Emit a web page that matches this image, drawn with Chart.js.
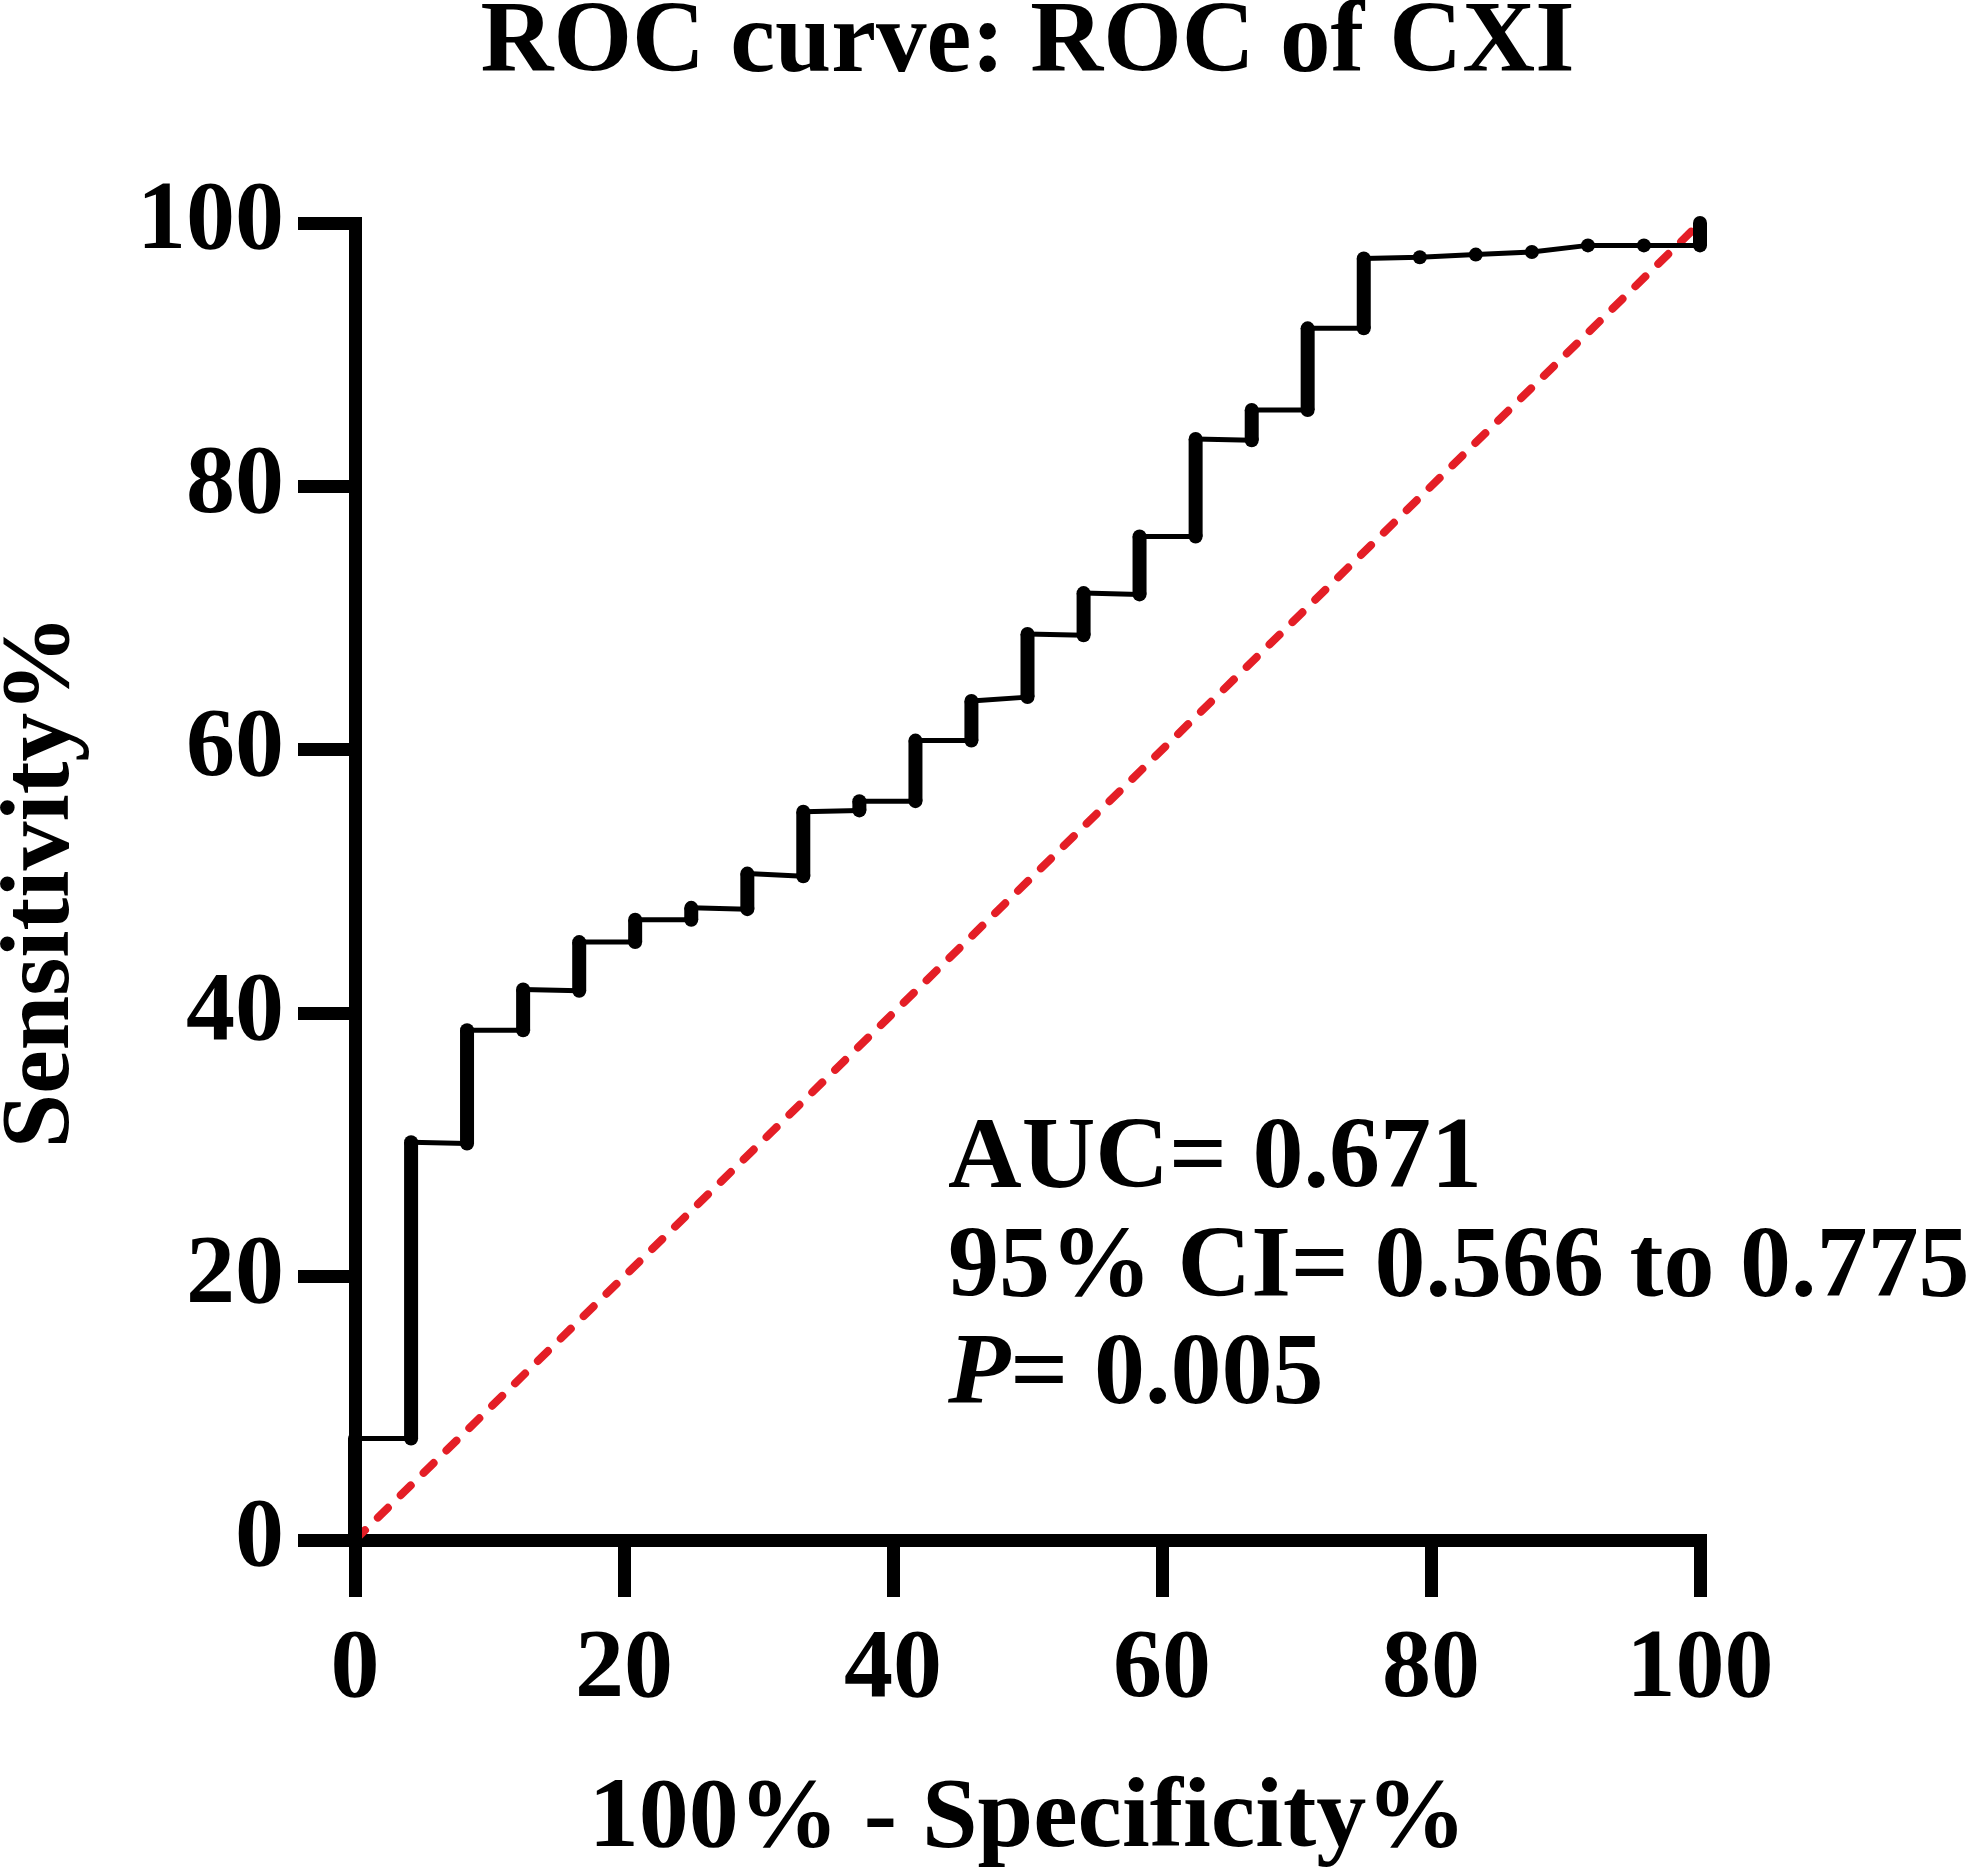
<!DOCTYPE html>
<html>
<head>
<meta charset="utf-8">
<script src="https://cdn.jsdelivr.net/npm/chart.js@4.4.0/dist/chart.umd.min.js"></script>
<style>
  html, body { margin: 0; padding: 0; background: #fff; }
  #roc-canvas { display: block; }
</style>
</head>
<body>
<canvas id="roc-canvas" width="1969" height="1873"></canvas>
<script>
// ROC points: 100% - specificity% and sensitivity%
var specPct = [0, 0, 4.17, 4.17, 8.33, 8.33, 12.5, 12.5, 16.67, 16.67, 20.83, 20.83, 25, 25,
  29.17, 29.17, 33.33, 33.33, 37.5, 37.5, 41.67, 41.67, 45.83, 45.83, 50, 50, 54.17, 54.17,
  58.33, 58.33, 62.5, 62.5, 66.67, 66.67, 70.83, 70.83, 75, 75, 79.17, 83.33, 87.5, 91.67, 95.83, 100, 100]
var sensPct = [0, 7.7, 7.7, 30.2, 30.1, 38.7, 38.7, 41.8, 41.7, 45.4, 45.4, 47.1, 47.1, 48.0,
  47.9, 50.6, 50.4, 55.3, 55.4, 56.1, 56.1, 60.7, 60.7, 63.7, 64.0, 68.8, 68.7, 71.9,
  71.8, 76.2, 76.2, 83.6, 83.5, 85.8, 85.8, 92.0, 92.0, 97.3, 97.4, 97.6, 97.8, 98.3, 98.3, 98.3, 100]
// line of no discrimination
var chanceX = [0, 100]
var chanceY = [0, 100]

var titleText = 'ROC curve: ROC of CXI'
var xTitle = '100% - Specificity%'
var yTitle = 'Sensitivity%'
var aucText = 'AUC= 0.671'
var ciText = '95% CI= 0.566 to 0.775'
var pLabel = 'P'
var pText = '= 0.005'

var FONT = '"Liberation Serif", "Times New Roman", serif'

var rocPoints = []
for (var i = 0; i < specPct.length; i++) {
  rocPoints.push({ x: specPct[i], y: sensPct[i] })
}
var chancePoints = []
for (var j = 0; j < chanceX.length; j++) {
  chancePoints.push({ x: chanceX[j], y: chanceY[j] })
}

// AUC / CI / P text block
var statsText = {
  id: 'statsText',
  afterDraw: function (chart) {
    var ctx = chart.ctx
    var left = 948
    ctx.save()
    ctx.fillStyle = '#000'
    ctx.textAlign = 'left'
    ctx.textBaseline = 'alphabetic'
    ctx.font = 'bold 102px ' + FONT
    ctx.fillText(aucText, left, 1187)
    ctx.fillText(ciText, left, 1296)
    ctx.font = 'italic bold 102px ' + FONT
    ctx.fillText(pLabel, left, 1403)
    var pw = ctx.measureText(pLabel).width
    ctx.font = 'bold 102px ' + FONT
    ctx.fillText(pText, left + pw, 1403)
    ctx.restore()
  }
}

var axisGrid = {
  drawOnChartArea: false,
  drawTicks: true,
  tickLength: 57,
  tickWidth: 13,
  lineWidth: 13,
  color: '#000',
  tickColor: '#000'
}
var axisBorder = { display: true, width: 13, color: '#000' }
var tickFont = { family: FONT, size: 98, weight: 'bold' }

var rocChartCanvas = document.getElementById('roc-canvas').getContext('2d')
var rocChart = new Chart(rocChartCanvas, {
  type: 'scatter',
  data: {
    datasets: [
      {
        label: 'ROC of CXI',
        data: rocPoints,
        showLine: true,
        borderColor: '#000',
        backgroundColor: '#000',
        borderWidth: 5,
        pointRadius: 7,
        pointBorderWidth: 0,
        pointBackgroundColor: '#000',
        clip: false,
        segment: {
          // vertical runs look heavier in the original (stacked dots)
          borderWidth: function (c) { return c.p0.parsed.x === c.p1.parsed.x ? 14 : 5 }
        }
      },
      {
        label: 'Chance',
        data: chancePoints,
        showLine: true,
        borderColor: '#e41e26',
        borderWidth: 8,
        borderDash: [14, 18],
        borderCapStyle: 'round',
        pointRadius: 0,
        clip: false
      }
    ]
  },
  options: {
    responsive: false,
    devicePixelRatio: 1,
    animation: false,
    events: [],
    layout: { padding: { left: 0, right: 269, top: 0, bottom: 0 } },
    scales: {
      x: {
        type: 'linear',
        min: 0,
        max: 100,
        ticks: { stepSize: 20, padding: 15, color: '#000', font: tickFont, maxRotation: 0, autoSkip: false },
        grid: axisGrid,
        border: axisBorder,
        title: {
          display: true,
          text: xTitle,
          color: '#000',
          font: { family: FONT, size: 100, weight: 'bold', lineHeight: 1.06 },
          padding: { top: 0, bottom: 0 }
        },
        afterFit: function (scale) { scale.height = 333 }
      },
      y: {
        type: 'linear',
        min: 0,
        max: 100,
        ticks: { stepSize: 20, padding: 14, color: '#000', font: tickFont },
        grid: axisGrid,
        border: axisBorder,
        title: {
          display: true,
          text: yTitle,
          color: '#000',
          font: { family: FONT, size: 98, weight: 'bold', lineHeight: 0.88 },
          padding: { top: 0, bottom: 0 }
        },
        afterFit: function (scale) { scale.width = 355 }
      }
    },
    plugins: {
      legend: { display: false },
      tooltip: { enabled: false },
      title: {
        display: true,
        text: titleText,
        fullSize: false,
        color: '#000',
        font: { family: FONT, size: 101, weight: 'bold', lineHeight: 0.8 },
        padding: { top: 5, bottom: 137.2 }
      }
    }
  },
  plugins: [statsText]
})
</script>
</body>
</html>
